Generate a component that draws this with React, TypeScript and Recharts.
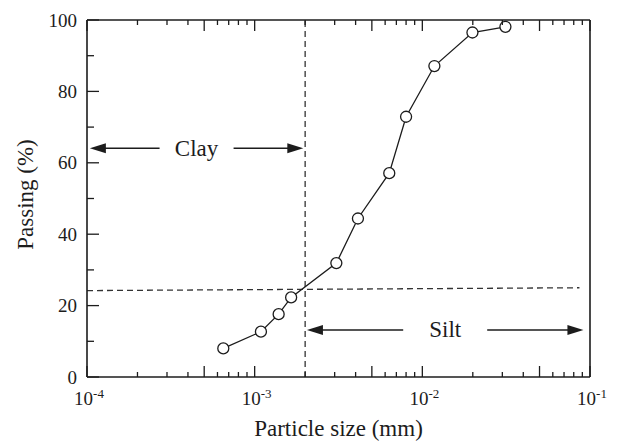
import React from "react";
import {
  LineChart,
  Line,
  XAxis,
  YAxis,
  ReferenceLine,
  Label,
} from "recharts";

// grain size distribution
const particleSize = [0.00065, 0.00109, 0.00139, 0.00165, 0.00307, 0.00413, 0.00635, 0.008, 0.0118, 0.0199, 0.0313];
const passing = [8.0, 12.7, 17.6, 22.3, 31.9, 44.4, 57.1, 72.9, 87.1, 96.5, 98.1];

const decades = [1e-4, 1e-3, 1e-2];
const mantissas = [1, 2, 3, 4, 5, 6, 7, 8, 9];
const xTicks = [...decades.flatMap((d) => mantissas.map((m) => +(d * m).toPrecision(3))), 0.1];
const yTicks = [0, 10, 20, 30, 40, 50, 60, 70, 80, 90, 100];
const yLabelled = [0, 20, 40, 60, 80, 100];

const clayBoundary = 0.002;
const limitLine = [
  { x: 1e-4, y: 24.2 },
  { x: 0.0865, y: 25.0 },
];
const clayArrow = [
  { x: 1.04e-4, y: 64.1 },
  { x: 0.00195, y: 64.1 },
];
const siltArrow = [
  { x: 0.00205, y: 13.2 },
  { x: 0.0914, y: 13.2 },
];

const data = particleSize.map((s, i) => ({ size: s, passing: passing[i] }));

const FONT = "'Liberation Serif', 'Times New Roman', serif";
const INK = "#1c1c1c";

const xTickLen = (index: number) => (index % 9 === 0 || index % 9 === 4 ? 11 : 5);

const BottomTick = (props: any) => {
  const { x, y, index, payload } = props;
  const len = xTickLen(index);
  const major = index % 9 === 0;
  const exp = Math.round(Math.log10(payload.value));
  return (
    <g>
      <line x1={x} y1={y} x2={x} y2={y - len} stroke={INK} strokeWidth={1.3} />
      {major && (
        <text x={x + 2} y={y + 28} textAnchor="middle" fontFamily={FONT} fontSize={19} fill={INK}>
          10
          <tspan dy={-7} fontSize={13}>
            {exp}
          </tspan>
        </text>
      )}
    </g>
  );
};

const TopTick = (props: any) => {
  const { x, y, index } = props;
  return <line x1={x} y1={y} x2={x} y2={y + xTickLen(index)} stroke={INK} strokeWidth={1.3} />;
};

const LeftTick = (props: any) => {
  const { x, y, payload } = props;
  const major = yLabelled.includes(payload.value);
  return (
    <g>
      <line x1={x} y1={y} x2={x + (major ? 12 : 7)} y2={y} stroke={INK} strokeWidth={1.3} />
      {major && (
        <text x={x - 10} y={y + 6.5} textAnchor="end" fontFamily={FONT} fontSize={19} fill={INK}>
          {payload.value}
        </text>
      )}
    </g>
  );
};

const RightTick = (props: any) => {
  const { x, y, payload } = props;
  const major = yLabelled.includes(payload.value);
  return <line x1={x} y1={y} x2={x - (major ? 12 : 7)} y2={y} stroke={INK} strokeWidth={1.3} />;
};

const ArrowPair = (p: any) => {
  const { x1, y1, x2, text, gap } = p;
  const mid = (x1 + x2) / 2;
  const head = 16;
  return (
    <g>
      <line x1={x1 + head - 2} y1={y1} x2={mid - gap} y2={y1} stroke={INK} strokeWidth={1.5} />
      <polygon points={`${x1},${y1} ${x1 + head},${y1 - 5} ${x1 + head},${y1 + 5}`} fill={INK} />
      <line x1={mid + gap} y1={y1} x2={x2 - head + 2} y2={y1} stroke={INK} strokeWidth={1.5} />
      <polygon points={`${x2},${y1} ${x2 - head},${y1 - 5} ${x2 - head},${y1 + 5}`} fill={INK} />
      <text x={mid} y={y1 + 7.5} textAnchor="middle" fontFamily={FONT} fontSize={23} fill={INK}>
        {text}
      </text>
    </g>
  );
};

export default function App() {
  return (
    <div style={{ position: "absolute", left: 0, top: 0, width: 617, height: 442, background: "#fff" }}>
      <LineChart
        width={617}
        height={442}
        data={data}
        margin={{ top: 19, right: 26, bottom: 64, left: 86 }}
      >
        <XAxis
          dataKey="size"
          type="number"
          scale="log"
          domain={[1e-4, 0.1]}
          allowDataOverflow
          ticks={xTicks}
          interval={0}
          height={1}
          tickSize={0}
          tickMargin={0}
          tickLine={false}
          tick={BottomTick}
          axisLine={{ stroke: INK, strokeWidth: 1.6 }}
        >
          <Label
            content={({ viewBox }: any) => (
              <text
                x={viewBox.x + viewBox.width / 2}
                y={viewBox.y + 59}
                textAnchor="middle"
                fontFamily={FONT}
                fontSize={23}
                fill={INK}
              >
                Particle size (mm)
              </text>
            )}
          />
        </XAxis>
        <XAxis
          xAxisId="top"
          orientation="top"
          dataKey="size"
          type="number"
          scale="log"
          domain={[1e-4, 0.1]}
          allowDataOverflow
          ticks={xTicks}
          interval={0}
          height={1}
          tickSize={0}
          tickMargin={0}
          tickLine={false}
          tick={TopTick}
          axisLine={{ stroke: INK, strokeWidth: 1.6 }}
        />
        <YAxis
          type="number"
          domain={[0, 100]}
          ticks={yTicks}
          interval={0}
          width={1}
          tickSize={0}
          tickMargin={0}
          tickLine={false}
          tick={LeftTick}
          axisLine={{ stroke: INK, strokeWidth: 1.6 }}
        >
          <Label
            content={({ viewBox }: any) => (
              <text
                transform={`translate(${viewBox.x - 53}, ${viewBox.y + viewBox.height / 2 - 4}) rotate(-90)`}
                textAnchor="middle"
                fontFamily={FONT}
                fontSize={23}
                fill={INK}
              >
                Passing (%)
              </text>
            )}
          />
        </YAxis>
        <YAxis
          yAxisId="right"
          orientation="right"
          type="number"
          domain={[0, 100]}
          ticks={yTicks}
          interval={0}
          width={1}
          tickSize={0}
          tickMargin={0}
          tickLine={false}
          tick={RightTick}
          axisLine={{ stroke: INK, strokeWidth: 1.6 }}
        />
        <ReferenceLine x={clayBoundary} stroke="#333" strokeWidth={1.3} strokeDasharray="6 4" />
        <ReferenceLine segment={limitLine} stroke="#333" strokeWidth={1.3} strokeDasharray="6 4" />
        <ReferenceLine
          segment={clayArrow}
          shape={(p: any) => <ArrowPair {...p} text="Clay" gap={37} />}
        />
        <ReferenceLine
          segment={siltArrow}
          shape={(p: any) => <ArrowPair {...p} text="Silt" gap={42} />}
        />
        <Line
          dataKey="passing"
          stroke={INK}
          strokeWidth={1.3}
          dot={{ r: 5.5, fill: "#fff", stroke: INK, strokeWidth: 1.3 }}
          isAnimationActive={false}
        />
      </LineChart>
    </div>
  );
}
